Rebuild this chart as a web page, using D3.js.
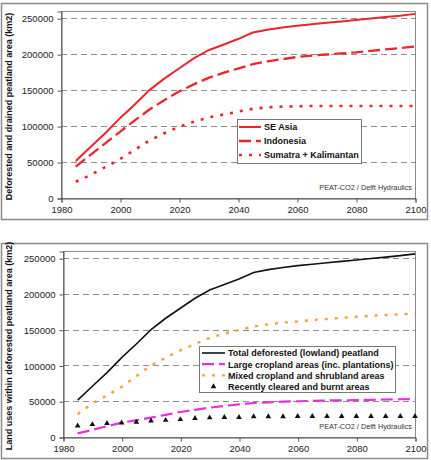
<!DOCTYPE html>
<html>
<head>
<meta charset="utf-8">
<script src="https://cdn.jsdelivr.net/npm/d3@7"></script>
<style>
  body { margin: 0; background: #fff; }
  svg { display: block; font-family: Arial, "Liberation Sans", sans-serif; }
</style>
</head>
<body>
<script>
// years every 5 from 1985 to 2100
const years = d3.range(1985, 2101, 5);
const xTicks = [1980, 2000, 2020, 2040, 2060, 2080, 2100];
const yTicks = [0, 50000, 100000, 150000, 200000, 250000];

// top panel
const seAsia = [51500, 71000, 90000, 111000, 130000, 150000, 166000, 180000, 194000, 205500,
  213000, 221000, 230000, 234000, 237000, 239500, 241500, 243500, 245500, 247500,
  249500, 251500, 253500, 256000];
const indonesia = [43500, 60000, 76000, 92000, 108000, 123000, 136000, 148000, 158000, 167000,
  174000, 180000, 186000, 190000, 193000, 196000, 198000, 199500, 201000, 202500,
  204500, 206500, 208500, 210500];
const sumatraKalimantan = [22600, 32000, 43000, 54000, 67000, 80000, 90000, 99000, 106000, 112000,
  116000, 120000, 124000, 126000, 127000, 127500, 128000, 128000, 128000, 128000,
  128000, 128000, 128000, 128000];

// bottom panel
const totalDeforested = seAsia;
const largeCropland = [5000, 10000, 15000, 20000, 23500, 27000, 31000, 35000, 38000, 41000,
  43500, 45500, 47500, 48500, 49500, 50000, 50500, 51000, 51300, 51600,
  52000, 52400, 52800, 53200];
const mixedCropland = [32000, 47000, 58000, 70000, 85000, 100000, 111000, 121000, 130000, 138500,
  144500, 149500, 154500, 157500, 160000, 161500, 163500, 165000, 166500, 168000,
  169500, 170500, 171500, 172500];
const recentlyCleared = [15700, 17500, 19000, 19900, 20800, 22500, 23500, 24500, 26000, 27000,
  27500, 27500, 28500, 28500, 28500, 29000, 29000, 29000, 29000, 29000,
  29000, 29000, 29000, 29000];

const svg = d3.select("body").append("svg")
  .attr("width", 431)
  .attr("height", 460);

function drawPanel(cfg) {
  const g = svg.append("g");

  // outer chart border
  g.append("rect")
    .attr("x", cfg.outer[0] + 0.5).attr("y", cfg.outer[1] + 0.5)
    .attr("width", cfg.outer[2] - cfg.outer[0]).attr("height", cfg.outer[3] - cfg.outer[1])
    .attr("fill", "#fff").attr("stroke", "#8a8a8a").attr("stroke-width", 1.5);

  const x = d3.scaleLinear().domain([1980, 2100]).range([cfg.left, cfg.right]);
  const y = d3.scaleLinear().domain([0, 260000]).range([cfg.bottom, cfg.top]);

  // gridlines
  g.append("g").selectAll("line")
    .data(yTicks.filter(d => d > 0))
    .join("line")
    .attr("x1", cfg.left).attr("x2", cfg.right)
    .attr("y1", d => Math.round(y(d)) + 0.5).attr("y2", d => Math.round(y(d)) + 0.5)
    .attr("stroke", "#8c8c8c").attr("stroke-dasharray", "6,4");

  // plot area frame
  g.append("rect")
    .attr("x", cfg.left + 0.5).attr("y", cfg.top + 0.5)
    .attr("width", cfg.right - cfg.left).attr("height", cfg.bottom - cfg.top)
    .attr("fill", "none").attr("stroke", "#8a8a8a");

  const xAxis = g.append("g")
    .attr("transform", `translate(0.5,${cfg.bottom + 0.5})`)
    .call(d3.axisBottom(x).tickValues(xTicks).tickFormat(d3.format("d")).tickSize(4).tickPadding(4));
  const yAxis = g.append("g")
    .attr("transform", `translate(${cfg.left + 0.5},0.5)`)
    .call(d3.axisLeft(y).tickValues(yTicks).tickFormat(d3.format("d")).tickSize(4).tickPadding(4));
  [xAxis, yAxis].forEach(a => {
    a.select(".domain").attr("stroke", "#555");
    a.selectAll(".tick line").attr("stroke", "#555");
    a.selectAll("text").attr("fill", "#222").style("font-size", "9.5px")
      .style("font-family", "Arial, 'Liberation Sans', sans-serif");
  });

  // y axis title
  g.append("text")
    .attr("transform", `translate(12,${(cfg.top + cfg.bottom) / 2 + 2}) rotate(-90)`)
    .attr("text-anchor", "middle")
    .style("font-size", "9px").style("font-weight", "bold").attr("fill", "#111")
    .text(cfg.yTitle);

  // series
  const line = vals => d3.line().x((d, i) => x(years[i])).y(d => y(d))(vals);
  cfg.series.forEach(s => {
    if (s.marker) {
      g.append("g").selectAll("path")
        .data(s.values)
        .join("path")
        .attr("transform", (d, i) => `translate(${x(years[i])},${y(d)})`)
        .attr("d", d3.symbol(d3.symbolTriangle, 14))
        .attr("fill", s.color);
    } else {
      g.append("path")
        .attr("d", line(s.values))
        .attr("fill", "none")
        .attr("stroke", s.color)
        .attr("stroke-width", s.width)
        .attr("stroke-dasharray", s.dash);
    }
  });

  // source note
  g.append("text")
    .attr("x", cfg.right - 3).attr("y", cfg.bottom - 8)
    .attr("text-anchor", "end")
    .style("font-size", "7.3px").attr("fill", "#333")
    .text("PEAT-CO2 / Delft Hydraulics");

  // legend
  const L = cfg.legend;
  g.append("rect")
    .attr("x", L.x + 0.5).attr("y", L.y + 0.5)
    .attr("width", L.w).attr("height", L.h)
    .attr("fill", "#fff").attr("stroke", "#777");
  cfg.series.forEach((s, i) => {
    const cy = L.y + L.row0 + i * L.step;
    if (s.marker) {
      g.append("path")
        .attr("transform", `translate(${(L.x1 + L.x2) / 2},${cy})`)
        .attr("d", d3.symbol(d3.symbolTriangle, 14))
        .attr("fill", s.color);
    } else {
      g.append("line")
        .attr("x1", L.x1).attr("x2", L.x2).attr("y1", cy).attr("y2", cy)
        .attr("stroke", s.color).attr("stroke-width", s.width)
        .attr("stroke-dasharray", s.dash);
    }
    g.append("text")
      .attr("x", L.x2 + 3).attr("y", cy + 3.3)
      .style("font-size", "9px").style("font-weight", "bold").attr("fill", "#111")
      .text(s.name);
  });
}

drawPanel({
  outer: [1, 3, 427, 219],
  left: 61, right: 415, top: 11, bottom: 198,
  yTitle: "Deforested and drained peatland area (km2)",
  series: [
    { name: "SE Asia", values: seAsia, color: "#e8262c", width: 2, dash: null },
    { name: "Indonesia", values: indonesia, color: "#e8262c", width: 2.3, dash: "12,5" },
    { name: "Sumatra + Kalimantan", values: sumatraKalimantan, color: "#e8262c", width: 2.6, dash: "3,7" }
  ],
  legend: { x: 237, y: 119, w: 124, h: 44, row0: 8, step: 14, x1: 239, x2: 261 }
});

drawPanel({
  outer: [1, 243, 427, 458],
  left: 63, right: 415, top: 251, bottom: 437,
  yTitle: "Land uses within deforested peatland area (km2)",
  series: [
    { name: "Total deforested (lowland) peatland", values: totalDeforested, color: "#111", width: 1.6, dash: null },
    { name: "Large cropland areas (inc. plantations)", values: largeCropland, color: "#e630e0", width: 2.2, dash: "12,5" },
    { name: "Mixed cropland and shrubland areas", values: mixedCropland, color: "#f2a33a", width: 2.4, dash: "3,7" },
    { name: "Recently cleared and burnt areas", values: recentlyCleared, color: "#111", marker: true }
  ],
  legend: { x: 199, y: 346, w: 196, h: 46, row0: 7, step: 11.2, x1: 202, x2: 225 }
});
</script>
</body>
</html>
